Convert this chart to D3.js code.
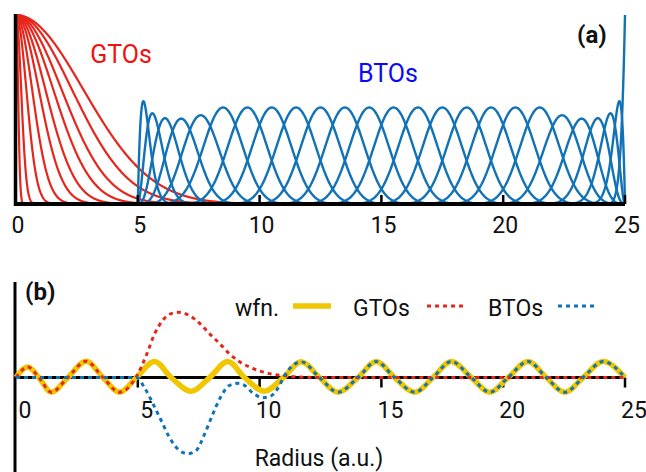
<!DOCTYPE html>
<html>
<head>
<meta charset="UTF-8">
<title></title>
<style>
  body { margin: 0; background: #fff; }
  text { font-family: Roboto, "Noto Sans", sans-serif; }
</style>
</head>
<body>
<svg width="646" height="472"></svg>
<script src="https://cdn.jsdelivr.net/npm/d3@7"></script>
<script>
// ---- data ----
var xTicks = [0, 5, 10, 15, 20, 25];

// GTO exponents (exp(-a r^2)), narrowest to widest
var gtoExponents = [69, 11.1, 2.77, 1.14, 0.573, 0.344, 0.214, 0.143, 0.095, 0.0656];

// BTO breakpoints and spline order (clamped at both ends, first spline dropped)
var btoBreaks = [5, 6, 7, 8, 9, 10, 11, 12, 13, 14, 15, 16, 17, 18, 19, 20, 21, 22, 23, 24, 25];
var btoOrder = 7;

// panel (b): wavefunction and its GTO / BTO parts
var wfnR = [0, 0.49, 0.94, 1.45, 2.13, 2.88, 3.57, 4.25, 4.94, 5.69, 6.37, 7.19, 7.95, 8.7, 9.38, 10.2, 10.98,
            11.71, 12.46, 13.22, 14.04, 14.79, 15.54, 16.37, 17.12, 17.87, 18.69, 19.45, 20.2, 21.02, 21.77, 22.53, 23.28, 24.1, 25];
var wfnV = [0, 0.16, 0, -0.226, 0, 0.25, 0, -0.226, 0, 0.246, 0, -0.21, 0, 0.246, 0, -0.21, 0,
            0.24, 0, -0.226, 0, 0.245, 0, -0.226, 0, 0.245, 0, -0.226, 0, 0.245, 0, -0.226, 0, 0.245, 0];

var gtoPartR = [0, 0.49, 0.94, 1.45, 2.13, 2.88, 3.57, 4.25, 4.92, 5.35, 5.69, 6.03, 6.37, 6.71, 7.12, 7.54, 7.95,
                8.36, 8.77, 9.18, 9.59, 10.0, 10.4, 10.96, 11.5, 12.5, 25];
var gtoPartV = [0, 0.16, 0, -0.226, 0, 0.25, 0, -0.226, 0, 0.34, 0.67, 0.88, 0.98, 1.0, 0.95, 0.83, 0.67,
                0.52, 0.36, 0.24, 0.16, 0.1, 0.06, 0.03, 0.01, 0, 0];

var btoPartR = [0, 4.95, 5.28, 5.62, 5.96, 6.3, 6.71, 7.06, 7.4, 7.74, 8.08, 8.43, 8.77, 9.11, 9.38, 9.73, 10.14, 10.48, 10.82, 10.98,
                11.71, 12.46, 13.22, 14.04, 14.79, 15.54, 16.37, 17.12, 17.87, 18.69, 19.45, 20.2, 21.02, 21.77, 22.53, 23.28, 24.1, 25];
var btoPartV = [0, 0, -0.16, -0.4, -0.66, -0.92, -1.12, -1.17, -1.12, -0.87, -0.56, -0.28, -0.12, -0.09, -0.12, -0.24, -0.31, -0.28, -0.12, 0,
                0.24, 0, -0.226, 0, 0.245, 0, -0.226, 0, 0.245, 0, -0.226, 0, 0.245, 0, -0.226, 0, 0.245, 0];

var legendNames = ["wfn.", "GTOs", "BTOs"];

// ---- setup ----
var svg = d3.select('svg');
var red = '#e6261c', blue = '#1272b6', yellow = '#efc600';

var x = d3.scaleLinear().domain([0, 25]).range([16, 625]);
var yA = d3.scaleLinear().domain([0, 1]).range([204, 15]);
var yB = d3.scaleLinear().domain([-1.45, 1.45]).range([472, 283]);

// ================= panel (a) =================
var gA = svg.append('g');

// GTOs
var lineA = d3.line().x(function(d){ return x(d[0]); }).y(function(d){ return yA(d[1]); });
var rs = d3.range(0, 12.001, 0.01);
gtoExponents.forEach(function(a){
  gA.append('path')
    .datum(rs.map(function(r){ return [r, Math.exp(-a * r * r)]; }))
    .attr('fill', 'none').attr('stroke', red).attr('stroke-width', 2.2)
    .attr('d', lineA);
});

// BTOs: clamped knot vector, Cox-de Boor recursion
var knots = [];
for (var m = 0; m < btoOrder - 1; m++) knots.push(btoBreaks[0]);
knots = knots.concat(btoBreaks);
for (m = 0; m < btoOrder - 1; m++) knots.push(btoBreaks[btoBreaks.length - 1]);
var tEnd = knots[knots.length - 1];

function basis(i, k, r) {
  if (k === 1) {
    if (knots[i] <= r && r < knots[i + 1]) return 1;
    if (r === tEnd && knots[i] < knots[i + 1] && knots[i + 1] === tEnd) return 1;
    return 0;
  }
  var v = 0;
  var d1 = knots[i + k - 1] - knots[i], d2 = knots[i + k] - knots[i + 1];
  if (d1 > 0) v += (r - knots[i]) / d1 * basis(i, k - 1, r);
  if (d2 > 0) v += (knots[i + k] - r) / d2 * basis(i + 1, k - 1, r);
  return v;
}

var nB = knots.length - btoOrder;
for (var i = 1; i < nB; i++) {
  var a0 = knots[i], a1 = knots[i + btoOrder];
  var pts = d3.range(0, 161).map(function(j){
    var r = a0 + (a1 - a0) * j / 160;
    return [r, basis(i, btoOrder, r)];
  });
  gA.append('path').datum(pts)
    .attr('fill', 'none').attr('stroke', blue).attr('stroke-width', 2.4)
    .attr('d', lineA);
}

// axes (a)
gA.append('line').attr('x1', x(0)).attr('x2', x(25)).attr('y1', 204).attr('y2', 204)
  .attr('stroke', '#000').attr('stroke-width', 4);
gA.append('line').attr('x1', 15.5).attr('x2', 15.5).attr('y1', 14).attr('y2', 206)
  .attr('stroke', '#000').attr('stroke-width', 3.5);
gA.selectAll('.tickA').data(xTicks.slice(1)).enter().append('line')
  .attr('x1', function(d){ return x(d); }).attr('x2', function(d){ return x(d); })
  .attr('y1', 204).attr('y2', 195)
  .attr('stroke', '#000').attr('stroke-width', 2.5);
gA.selectAll('.lblA').data(xTicks).enter().append('text')
  .attr('x', function(d){ return x(d) + 2; }).attr('y', 233)
  .attr('text-anchor', 'middle').attr('font-size', '23px').attr('fill', '#111')
  .text(function(d){ return d; });

gA.append('text').attr('x', 121).attr('y', 63).attr('text-anchor', 'middle')
  .attr('font-size', '25px').attr('fill', '#f01010').text('GTOs');
gA.append('text').attr('x', 388).attr('y', 82).attr('text-anchor', 'middle')
  .attr('font-size', '25px').attr('fill', '#0a0af5').text('BTOs');
gA.append('text').attr('x', 577).attr('y', 43).attr('font-size', '24px')
  .attr('font-weight', 'bold').attr('fill', '#111').text('(a)');

// ================= panel (b) =================
var gB = svg.append('g');
var lineB = d3.line().x(function(d){ return x(d[0]); }).y(function(d){ return yB(d[1]); })
  .curve(d3.curveMonotoneX);

gB.append('line').attr('x1', x(0)).attr('x2', x(25)).attr('y1', yB(0)).attr('y2', yB(0))
  .attr('stroke', '#000').attr('stroke-width', 3);
gB.append('line').attr('x1', 15).attr('x2', 15).attr('y1', 282).attr('y2', 472)
  .attr('stroke', '#000').attr('stroke-width', 3);
gB.selectAll('.tickB').data(xTicks.slice(1)).enter().append('line')
  .attr('x1', function(d){ return x(d); }).attr('x2', function(d){ return x(d); })
  .attr('y1', yB(0)).attr('y2', yB(0) + 10)
  .attr('stroke', '#000').attr('stroke-width', 2.5);
gB.selectAll('.lblB').data(xTicks).enter().append('text')
  .attr('x', function(d){ return x(d) + 9; }).attr('y', 418)
  .attr('text-anchor', 'middle').attr('font-size', '23px').attr('fill', '#111')
  .text(function(d){ return d; });

gB.append('path').datum(d3.zip(wfnR, wfnV))
  .attr('fill', 'none').attr('stroke', yellow).attr('stroke-width', 5.5)
  .attr('d', lineB);
gB.append('path').datum(d3.zip(gtoPartR, gtoPartV))
  .attr('fill', 'none').attr('stroke', red).attr('stroke-width', 3)
  .attr('stroke-dasharray', '4,4').attr('d', lineB);
gB.append('path').datum(d3.zip(btoPartR, btoPartV))
  .attr('fill', 'none').attr('stroke', blue).attr('stroke-width', 3)
  .attr('stroke-dasharray', '4,4').attr('d', lineB);

gB.append('text').attr('x', 25).attr('y', 300).attr('font-size', '24px')
  .attr('font-weight', 'bold').attr('fill', '#111').text('(b)');
gB.append('text').attr('x', 319).attr('y', 466).attr('text-anchor', 'middle')
  .attr('font-size', '23px').attr('fill', '#111').text('Radius (a.u.)');

// legend
var legTextX = [235, 353, 488];
var legLineX = [293, 427, 558];
var legStyles = [
  {c: yellow, w: 5.5, dash: null},
  {c: red, w: 3, dash: '4,4'},
  {c: blue, w: 3, dash: '4,4'}
];
legendNames.forEach(function(name, k){
  gB.append('text').attr('x', legTextX[k]).attr('y', 316).attr('font-size', '23px')
    .attr('fill', '#111').text(name);
  gB.append('line').attr('x1', legLineX[k]).attr('x2', legLineX[k] + 38)
    .attr('y1', 306).attr('y2', 306)
    .attr('stroke', legStyles[k].c).attr('stroke-width', legStyles[k].w)
    .attr('stroke-dasharray', legStyles[k].dash);
});
</script>
</body>
</html>
